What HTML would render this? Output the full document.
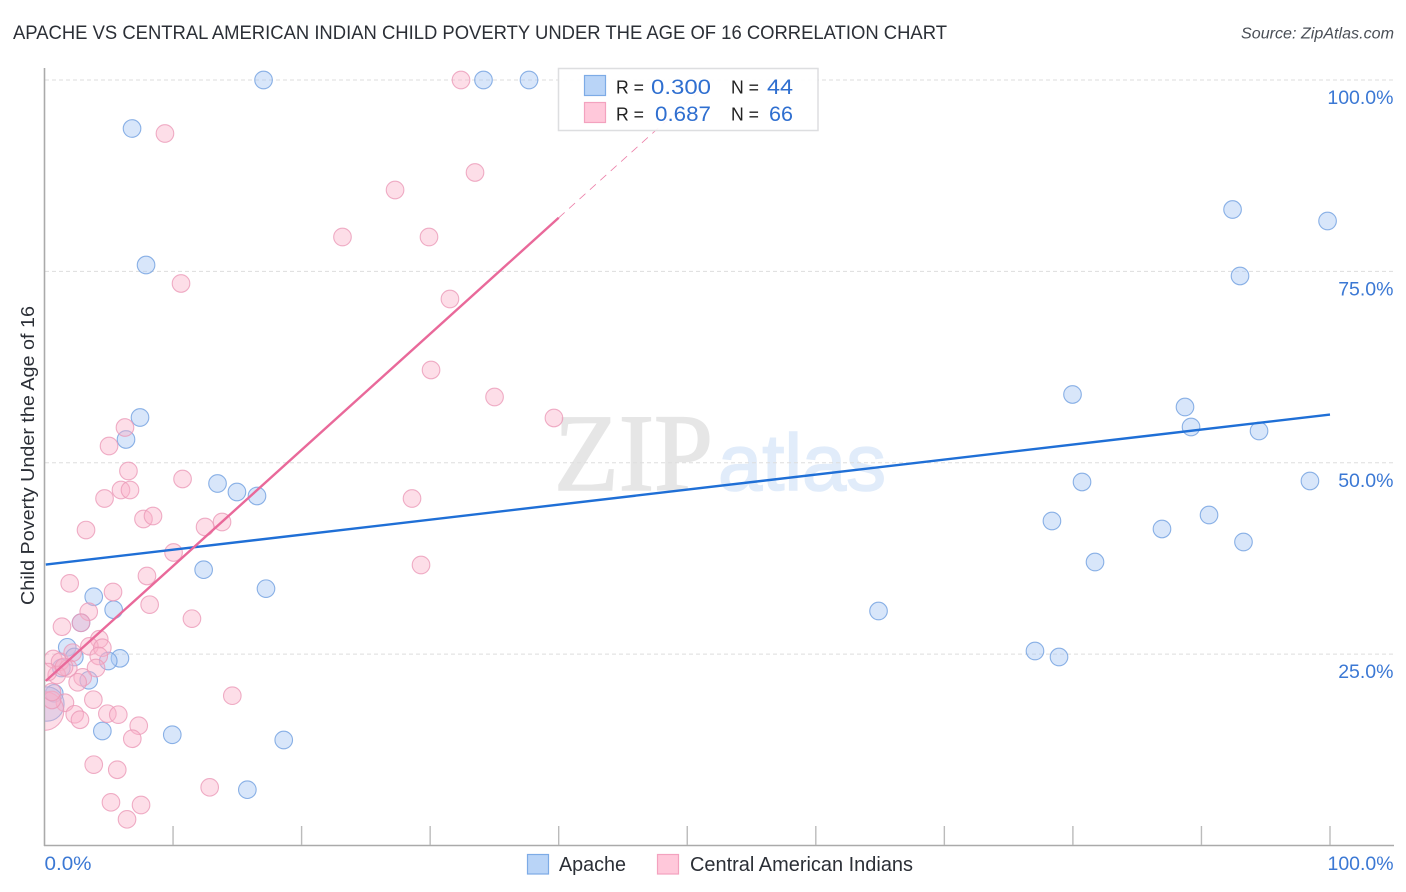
<!DOCTYPE html>
<html lang="en">
<head>
<meta charset="utf-8">
<title>Apache vs Central American Indian Child Poverty Under the Age of 16 Correlation Chart</title>
<style>
html,body{margin:0;padding:0;background:#fff;}
body{width:1406px;height:892px;overflow:hidden;}
svg{display:block;font-family:"Liberation Sans",sans-serif;}
</style>
</head>
<body>
<svg id="chart" width="1406" height="892" viewBox="0 0 1406 892" xmlns="http://www.w3.org/2000/svg">
  <defs>
    <clipPath id="plot-clip"><rect x="45" y="0" width="1361" height="845"/></clipPath>
  </defs>
  <text x="13" y="39" font-size="19" fill="#2b2f36" textLength="934" lengthAdjust="spacingAndGlyphs">APACHE VS CENTRAL AMERICAN INDIAN CHILD POVERTY UNDER THE AGE OF 16 CORRELATION CHART</text>
  <text x="1241" y="38.5" font-size="15.5" font-style="italic" fill="#4a4f57" textLength="153" lengthAdjust="spacingAndGlyphs">Source: ZipAtlas.com</text>
  <g id="watermark">
    <text x="554" y="490" font-family="'Liberation Serif',serif" font-size="110" fill="#e6e6e6" stroke="#e6e6e6" stroke-width="1.6" textLength="159" lengthAdjust="spacingAndGlyphs">ZIP</text>
    <text x="718" y="490" font-size="80" fill="#e1ecfa" stroke="#e1ecfa" stroke-width="1.6" textLength="168" lengthAdjust="spacingAndGlyphs">atlas</text>
  </g>
  <g id="grid"></g>
  <g id="axes"></g>
  <g id="points-apache" clip-path="url(#plot-clip)"></g>
  <g id="points-central" clip-path="url(#plot-clip)"></g>
  <g id="trends" clip-path="url(#plot-clip)"></g>
  <text transform="translate(34,605) rotate(-90)" font-size="18.5" fill="#2b2f36" textLength="299" lengthAdjust="spacingAndGlyphs">Child Poverty Under the Age of 16</text>
  <g id="stats-legend">
    <rect x="558.5" y="68.5" width="259.5" height="62" fill="#fff" fill-opacity="0.9" stroke="#dddee0" stroke-width="1.5"/>
    <rect x="584.5" y="75.5" width="21" height="20" fill="#b9d4f7" stroke="#7dabe6" stroke-width="1.2"/>
    <rect x="584.5" y="102.5" width="21" height="20" fill="#ffc8da" stroke="#f3a2bf" stroke-width="1.2"/>
    <text x="616" y="93.5" font-size="18.5" fill="#222" textLength="28" lengthAdjust="spacingAndGlyphs">R =</text>
    <text x="651" y="94" font-size="21.5" fill="#2f6fd0" textLength="60" lengthAdjust="spacingAndGlyphs">0.300</text>
    <text x="731" y="93.5" font-size="18.5" fill="#222" textLength="28" lengthAdjust="spacingAndGlyphs">N =</text>
    <text x="767" y="94" font-size="21.5" fill="#2f6fd0" textLength="26" lengthAdjust="spacingAndGlyphs">44</text>
    <text x="616" y="120.5" font-size="18.5" fill="#222" textLength="28" lengthAdjust="spacingAndGlyphs">R =</text>
    <text x="655" y="121" font-size="21.5" fill="#2f6fd0" textLength="56" lengthAdjust="spacingAndGlyphs">0.687</text>
    <text x="731" y="120.5" font-size="18.5" fill="#222" textLength="28" lengthAdjust="spacingAndGlyphs">N =</text>
    <text x="769" y="121" font-size="21.5" fill="#2f6fd0" textLength="24" lengthAdjust="spacingAndGlyphs">66</text>
  </g>
  <g id="bottom-legend">
    <rect x="527.5" y="854.5" width="21" height="19.5" fill="#b9d4f7" stroke="#7dabe6" stroke-width="1.2"/>
    <text x="559" y="871" font-size="20" fill="#2b2f36" textLength="67" lengthAdjust="spacingAndGlyphs">Apache</text>
    <rect x="657.5" y="854.5" width="21" height="19.5" fill="#ffc8da" stroke="#f3a2bf" stroke-width="1.2"/>
    <text x="690" y="871" font-size="20" fill="#2b2f36" textLength="223" lengthAdjust="spacingAndGlyphs">Central American Indians</text>
  </g>
</svg>
<script>
const apacheX = [17.04,34.15,37.69,6.81,7.90,7.43,6.34,13.46,14.97,16.53,12.38,17.23,3.83,5.38,2.84,1.77,2.32,5.87,4.96,1.31,3.44,0.76,0.19,4.50,9.94,18.61,15.78,64.88,77.05,78.92,78.37,80.71,79.97,81.72,86.93,88.72,89.19,90.59,92.42,93.00,94.48,93.27,99.81,98.44];
const apacheY = [100,100,100,93.66,75.83,55.91,53.04,47.29,46.18,45.66,36.03,33.55,32.50,30.80,29.10,25.89,24.62,24.45,24.10,23.19,21.58,19.88,18.48,14.96,14.47,13.78,7.29,30.63,25.41,24.62,42.39,47.49,58.92,37.03,41.35,57.28,54.67,43.17,83.08,74.40,54.15,39.65,81.58,47.62];
const apacheWeight = [1,1,1,1,1,1,1,1,1,1,1,1,1,1,1,1,1,1,1,1,1,1,3.8,1,1,1,1,1,1,1,1,1,1,1,1,1,1,1,1,1,1,1,1,1];

const centralX = [32.40,9.37,33.49,27.27,23.18,29.91,10.62,31.54,30.07,35.01,39.63,6.26,5.02,6.53,10.74,4.67,5.95,6.65,28.59,3.23,7.70,8.44,12.49,13.81,10.04,29.29,1.96,7.97,5.33,8.18,3.44,11.47,1.36,2.84,4.26,3.49,4.50,4.22,0.68,1.21,2.19,4.01,1.85,2.97,2.58,0.95,14.61,3.80,1.59,2.35,2.76,4.89,5.74,7.33,6.83,3.83,5.66,12.85,5.17,7.51,6.42,0,0.58,0.58,0.27,1.52];
const centralY = [100,93.01,87.92,85.63,79.49,79.49,73.42,71.39,62.12,58.59,55.85,54.60,52.19,48.92,47.88,45.33,46.44,46.44,45.33,41.21,42.65,43.04,41.61,42.26,38.28,36.64,34.25,35.21,33.12,31.46,30.54,29.63,28.58,29.10,26.94,26.02,25.84,24.76,24.36,24.01,25.19,23.19,23.15,21.97,21.32,22.27,19.57,19.05,18.65,17.14,16.43,17.22,17.09,15.65,13.95,10.56,9.90,7.60,5.64,5.29,3.42,17.57,19.01,20.05,22.66,23.32];
const centralWeight = [1,1,1,1,1,1,1,1,1,1,1,1,1,1,1,1,1,1,1,1,1,1,1,1,1,1,1,1,1,1,1,1,1,1,1,1,1,1,1,1,1,1,1,1,1,1,1,1,1,1,1,1,1,1,1,1,1,1,1,1,1,4.8,1,1,1,1];

const apacheTrendX = [0.1,100];
const apacheTrendY = [36.7,56.3];
const centralTrendX = [0.1,40];
const centralTrendY = [21.5,82];
const centralTrendExtX = [40,51.9];
const centralTrendExtY = [82,100];

const yTickValues = [25,50,75,100];
const yTickLabels = ["25.0%","50.0%","75.0%","100.0%"];
const xTickValues = [10,20,30,40,50,60,70,80,90,100];
const xEndValues = [0,100];
const xEndLabels = ["0.0%","100.0%"];

const NS = "http://www.w3.org/2000/svg";
function xScale(v){ return 44.5 + v * 12.855; }
function yScale(v){ return 845.5 - v * 7.655; }
function make(tag, parent, attrs){
  const el = document.createElementNS(NS, tag);
  for (const k in attrs) el.setAttribute(k, attrs[k]);
  parent.appendChild(el);
  return el;
}

const gridG = document.getElementById("grid");
const axesG = document.getElementById("axes");

yTickValues.forEach(function(v, i){
  const line = make("line", gridG, {x1:45, x2:1394, y1:yScale(v), y2:yScale(v), stroke:"#dddddd", "stroke-width":1, "stroke-dasharray":"4 3"});
  
  
  const label = make("text", axesG, {x:1393.5, y:yScale(v)+24, "text-anchor":"end", "font-size":19.5, fill:"#3b78d4"});
  
  
  label.textContent = yTickLabels[i];
});

const leftAxis = make("line", axesG, {x1:44.5, x2:44.5, y1:68, y2:846, stroke:"#aaaaaa", "stroke-width":1.6});


const bottomAxis = make("line", axesG, {x1:44, x2:1394, y1:845.5, y2:845.5, stroke:"#aaaaaa", "stroke-width":1.4});



xTickValues.forEach(function(v){
  const tick = make("line", axesG, {x1:xScale(v), x2:xScale(v), y1:826, y2:845, stroke:"#bbbbbb", "stroke-width":1.4});
  
  
});

xEndValues.forEach(function(v, i){
  const label = make("text", axesG, {x: i === 0 ? xScale(v) : 1393.5, y:870, "text-anchor": i === 0 ? "start" : "end", "font-size":19.5, fill:"#3b78d4", textLength: i === 0 ? 47 : 66, lengthAdjust:"spacingAndGlyphs"});
  
  
  label.textContent = xEndLabels[i];
});

function drawPoints(groupId, xs, ys, ws, fill, opacity, stroke){
  const g = document.getElementById(groupId);
  xs.forEach(function(v, i){
    const c = make("circle", g, {cx:xScale(v), cy:yScale(ys[i]), r:8.8*Math.sqrt(ws[i]), fill:fill, "fill-opacity":opacity, stroke:stroke, "stroke-opacity":0.8, "stroke-width":1.1});
    
    
  });
}
drawPoints("points-apache", apacheX, apacheY, apacheWeight, "#a8c8f5", 0.45, "#6f9fe0");
drawPoints("points-central", centralX, centralY, centralWeight, "#fbb0c8", 0.42, "#eb9ab8");

const trendG = document.getElementById("trends");
const tBlue = make("line", trendG, {x1:xScale(apacheTrendX[0]), y1:yScale(apacheTrendY[0]), x2:xScale(apacheTrendX[1]), y2:yScale(apacheTrendY[1]), stroke:"#1f6fd6", "stroke-width":2.4});


const tPink = make("line", trendG, {x1:xScale(centralTrendX[0]), y1:yScale(centralTrendY[0]), x2:xScale(centralTrendX[1]), y2:yScale(centralTrendY[1]), stroke:"#e9699a", "stroke-width":2.4});


const tPinkExt = make("line", trendG, {x1:xScale(centralTrendExtX[0]), y1:yScale(centralTrendExtY[0]), x2:xScale(centralTrendExtX[1]), y2:yScale(centralTrendExtY[1]), stroke:"#ec7fa8", "stroke-width":0.8, "stroke-dasharray":"8 6"});


</script>
</body>
</html>
